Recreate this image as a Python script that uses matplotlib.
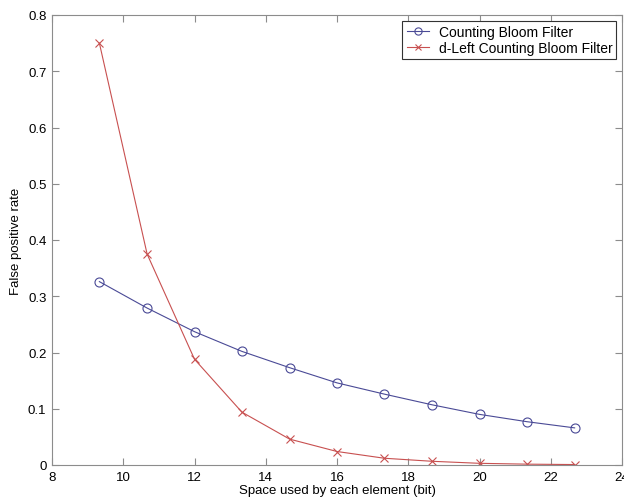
import matplotlib
matplotlib.use('Agg')
import matplotlib.pyplot as plt
import numpy as np

plt.rcParams['font.family'] = ['Liberation Sans', 'DejaVu Sans']

# bits per element
space_bits = [9.33, 10.67, 12.0, 13.33, 14.67, 16.0, 17.33, 18.67, 20.0, 21.33, 22.67]
# false positive rates
cbf_rate = [0.326, 0.279, 0.237, 0.202, 0.173, 0.146, 0.126, 0.107, 0.090, 0.077, 0.066]
dlcbf_rate = [0.750, 0.375, 0.188, 0.094, 0.046, 0.024, 0.012, 0.0066, 0.003, 0.0015, 0.0008]

x_ticks = [8, 10, 12, 14, 16, 18, 20, 22, 24]
y_ticks = [0, 0.1, 0.2, 0.3, 0.4, 0.5, 0.6, 0.7, 0.8]
y_tick_labels = ['0', '0.1', '0.2', '0.3', '0.4', '0.5', '0.6', '0.7', '0.8']

fig = plt.figure(figsize=(6.24, 5.02), dpi=100)
ax = fig.add_axes([52/624, 1-466/502, 570/624, 450/502])

ax.plot(space_bits, cbf_rate, color='#4a4a96', lw=0.8, marker='o', ms=6.5,
        mfc='none', mec='#4a4a96', mew=0.8, label='Counting Bloom Filter')
ax.plot(space_bits, dlcbf_rate, color='#c85050', lw=0.8, marker='x', ms=5.5,
        mec='#c85050', mew=0.8, label='d-Left Counting Bloom Filter')

ax.set_xlim(8, 24)
ax.set_ylim(0, 0.8)
ax.set_xticks(x_ticks)
ax.set_yticks(y_ticks)
ax.set_yticklabels(y_tick_labels)

for s in ax.spines.values():
    s.set_color('#8c8c8c')
    s.set_linewidth(0.8)
ax.tick_params(direction='in', length=5, width=0.8, color='#8c8c8c',
               top=True, right=True, labelsize=9.5, pad=4)

ax.set_xlabel('Space used by each element (bit)', fontsize=9.5, labelpad=1)
ax.set_ylabel('False positive rate', fontsize=9.5, labelpad=4)

leg = ax.legend(loc='upper right', fontsize=10, fancybox=False, framealpha=1,
                edgecolor='#333333', handlelength=1.6, handletextpad=0.7,
                markerscale=0.8, borderpad=0.3, labelspacing=0.15,
                borderaxespad=0.4)
leg.get_frame().set_linewidth(0.8)

fig.savefig('out.png', dpi=100)
